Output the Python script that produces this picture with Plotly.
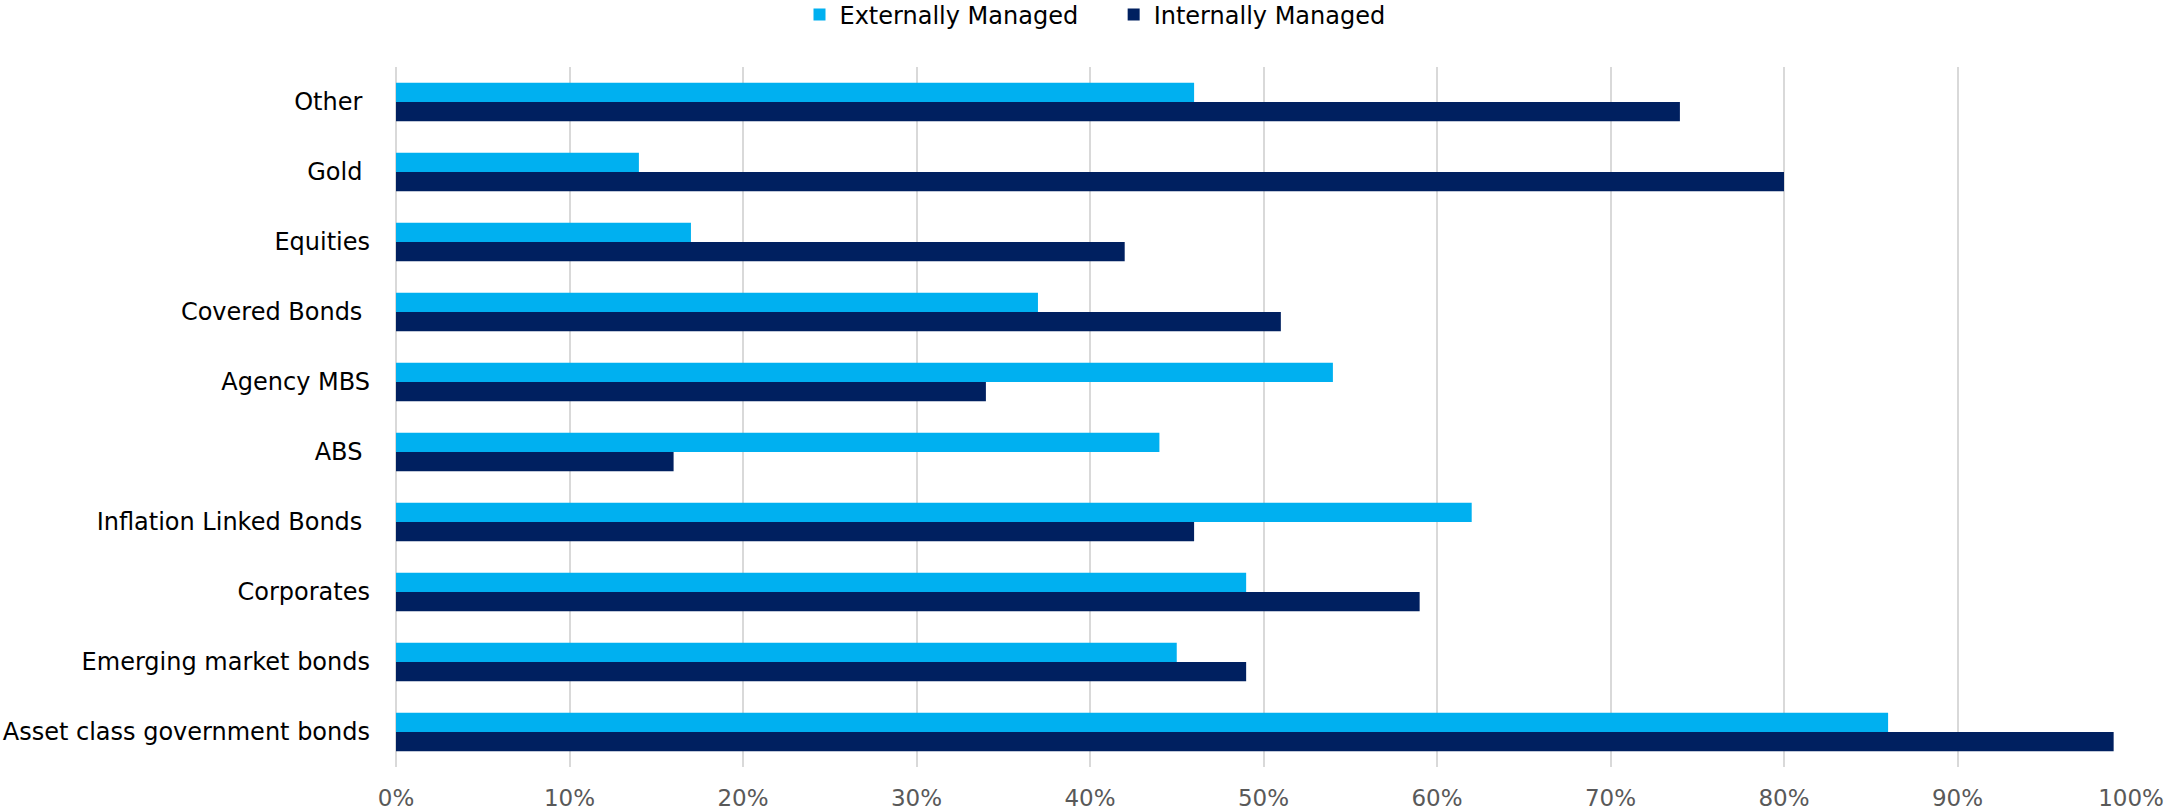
import plotly.graph_objects as go

# Categories listed bottom-to-top (Plotly category axis order)
categories = [
    "Asset class government bonds",
    "Emerging market bonds",
    "Corporates",
    "Inflation Linked Bonds\u00a0",
    "ABS\u00a0",
    "Agency MBS",
    "Covered Bonds\u00a0",
    "Equities",
    "Gold\u00a0",
    "Other\u00a0",
]
externally_managed = [86, 45, 49, 62, 44, 54, 37, 17, 14, 46]
internally_managed = [99, 49, 59, 46, 16, 34, 51, 42, 80, 74]
x_ticks = [0, 10, 20, 30, 40, 50, 60, 70, 80, 90, 100]
x_tick_labels = [f"{v}%" for v in x_ticks]

FONT = "DejaVu Sans"
GRID = "#D9D9D9"
W, H = 2170, 811

fig = go.Figure()
fig.add_trace(go.Bar(
    y=categories, x=internally_managed, orientation="h",
    name="Internally Managed", marker=dict(color="#002060", line=dict(width=0)),
    legendrank=2,
))
fig.add_trace(go.Bar(
    y=categories, x=externally_managed, orientation="h",
    name="Externally Managed" + "\u00a0" * 4, marker=dict(color="#00B0F0", line=dict(width=0)),
    legendrank=1,
))

fig.update_layout(
    width=W, height=H,
    margin=dict(l=396, r=39, t=67, b=44, autoexpand=False),
    paper_bgcolor="white", plot_bgcolor="white",
    barmode="group", bargap=0.45, bargroupgap=0,
    font=dict(family=FONT, size=24, color="#000000"),
    legend=dict(
        orientation="h", xref="container", x=1095 / W, xanchor="center",
        yref="container", y=1 - 15 / H, yanchor="middle",
        font=dict(family=FONT, size=24, color="#000000"),
        itemwidth=30, tracegroupgap=0,
    ),
    xaxis=dict(
        range=[0, 100], tickvals=x_ticks, ticktext=x_tick_labels,
        showgrid=True, gridcolor=GRID, gridwidth=1.5,
        zeroline=True, zerolinecolor=GRID, zerolinewidth=1.5,
        showline=False, automargin=False,
        tickfont=dict(family=FONT, size=23, color="#595959"),
        ticklabelstandoff=15,
    ),
    yaxis=dict(
        type="category", showgrid=False, zeroline=False, showline=False,
        automargin=False,
        tickfont=dict(family=FONT, size=24, color="#000000"),
        ticklabelstandoff=25,
    ),
)

fig.write_html(
    "out.html",
    config={"displayModeBar": False},
    post_script="document.body.style.margin='0';document.body.style.overflow='hidden';",
)
